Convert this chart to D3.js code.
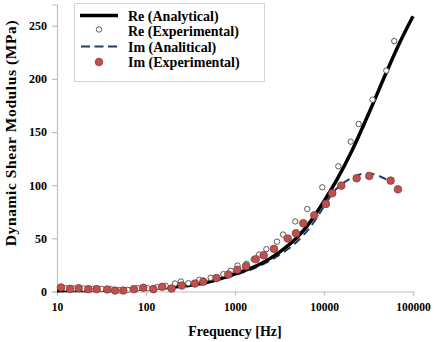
<!DOCTYPE html>
<html>
<head>
<meta charset="utf-8">
<script src="https://cdn.jsdelivr.net/npm/d3@7"></script>
<style>
  html, body { margin: 0; padding: 0; background: #fff; }
  svg { display: block; }
  text { font-family: "Liberation Serif", "Times New Roman", serif; font-weight: bold; fill: #000; }
</style>
</head>
<body>
<svg id="chart" width="435" height="342"></svg>
<script>
// ---- data ----
const xTicks = [10, 100, 1000, 10000, 100000];
const yTicks = [0, 50, 100, 150, 200, 250];

const reAnaFreq = [10, 20, 50, 100, 200, 500, 1000, 2000, 3162, 5012, 7079, 10000, 14125, 19953, 31623, 50119, 70795, 100000];
const reAnaVal  = [0.8, 1.0, 1.6, 2.6, 4.3, 8.8, 16.5, 26.5, 37, 51, 66, 85, 106, 130, 167, 206, 234, 259];

const reExpFreq = [12.5, 15.5, 19.8, 25.2, 31.8, 40.1, 50.1, 62.3, 80.7, 104, 132, 166, 212, 247, 299, 397, 440, 533, 739, 895, 1067, 1350, 1622, 1862, 2250, 2966, 3461, 4760, 6490, 9570, 14490, 19950, 24530, 35100, 50100, 61600];
const reExpVal  = [3.1, 2.8, 2.8, 2.5, 2.5, 2.2, 1.2, 1.6, 3.1, 3.1, 4.0, 5.4, 7.5, 9.4, 7.8, 11.0, 10.3, 12.9, 16.3, 19.5, 24.4, 26.0, 30.4, 34.8, 39.8, 46.9, 53.6, 65.9, 77.6, 98.0, 117.8, 141.0, 157.6, 180.5, 207.8, 235.6];

const imAnaFreq = [10, 31.6, 100, 316, 1000, 2000, 3160, 5000, 7080, 10000, 12600, 15800, 20000, 25100, 28200, 35500, 44700, 60300];
const imAnaVal  = [0.8, 1.2, 2.4, 5.2, 15.5, 25, 34.5, 47, 61, 80, 93, 101, 106.5, 110, 111, 110.5, 107.5, 102];

const imExpFreq = [11.1, 14.0, 17.5, 22.5, 27.9, 36.7, 44.9, 55.6, 73.3, 93.2, 121, 152, 194, 252, 355, 440, 620, 841, 1065, 1330, 1710, 2100, 2740, 3910, 4840, 5850, 7780, 10520, 12380, 15640, 23280, 32270, 56100, 67700];
const imExpVal  = [3.8, 2.5, 3.1, 2.2, 2.2, 1.9, 0.9, 0.9, 2.2, 3.5, 2.2, 4.4, 2.8, 5.6, 7.5, 9.2, 12.7, 16.0, 20.5, 23.8, 30.4, 34.1, 40.1, 49.8, 54.8, 64.2, 71.7, 82.4, 92.4, 99.6, 106.5, 108.7, 104.3, 96.1];

const legendLabels = ["Re (Analytical)", "Re (Experimental)", "Im (Analitical)", "Im (Experimental)"];

// ---- styles ----
const C = {
  axis: "#bfbfbf",
  reLine: "#000000",
  imLine: "#1f3f66",
  openStroke: "#595959",
  redFill: "#c0504d",
  redStroke: "#8a3a38",
  legendBorder: "#d4d4d4"
};

const svg = d3.select("#chart");
const x = d3.scaleLog().domain([10, 100000]).range([57, 413]);
const y = d3.scaleLinear().domain([0, 270]).range([291.5, 4.5]);

const zip = (a, b) => a.map((v, i) => [v, b[i]]);

// axes
const yAxis = d3.axisLeft(y).tickValues(yTicks).tickSize(5).tickPadding(5).tickFormat(d3.format("d"));
const gy = svg.append("g").attr("transform", `translate(${x(10)},0)`).call(yAxis);
gy.select(".domain").attr("stroke", C.axis).attr("stroke-width", 1.2);
gy.selectAll(".tick line").attr("stroke", C.axis).attr("stroke-width", 1.2);
gy.selectAll(".tick text").attr("font-size", 12).attr("font-family", "Liberation Serif").attr("font-weight", "bold").attr("fill", "#000");

const xAxis = d3.axisBottom(x).tickValues(xTicks).tickSize(4).tickPadding(7).tickFormat(d3.format("d"));
const gx = svg.append("g").attr("transform", `translate(0,${y(0)})`).call(xAxis);
gx.select(".domain").attr("stroke", C.axis).attr("stroke-width", 1.2);
gx.selectAll(".tick line").attr("stroke", C.axis).attr("stroke-width", 1.2);
gx.selectAll(".tick text").attr("font-size", 11.5).attr("font-family", "Liberation Serif").attr("font-weight", "bold").attr("fill", "#000");

// titles
svg.append("text").attr("x", 235).attr("y", 336).attr("text-anchor", "middle").attr("font-size", 14).text("Frequency [Hz]");
svg.append("text").attr("transform", "translate(16,133) rotate(-90)").attr("text-anchor", "middle")
  .attr("font-size", 15.5).attr("letter-spacing", 0.6).text("Dynamic Shear Modulus (MPa)");

// lines
const line = d3.line().x(d => x(d[0])).y(d => y(d[1])).curve(d3.curveMonotoneX);

svg.append("path").datum(zip(imAnaFreq, imAnaVal)).attr("d", line)
  .attr("fill", "none").attr("stroke", C.imLine).attr("stroke-width", 2).attr("stroke-dasharray", "8,5");

svg.append("path").datum(zip(reAnaFreq, reAnaVal)).attr("d", line)
  .attr("fill", "none").attr("stroke", C.reLine).attr("stroke-width", 3.5);

svg.append("g").selectAll("circle").data(zip(reExpFreq, reExpVal)).join("circle")
  .attr("cx", d => x(d[0])).attr("cy", d => y(d[1])).attr("r", 2.7)
  .attr("fill", "#fff").attr("stroke", C.openStroke).attr("stroke-width", 1);

svg.append("g").selectAll("circle").data(zip(imExpFreq, imExpVal)).join("circle")
  .attr("cx", d => x(d[0])).attr("cy", d => y(d[1])).attr("r", 3.8)
  .attr("fill", C.redFill).attr("stroke", C.redStroke).attr("stroke-width", 0.8);

// legend
const lg = svg.append("g");
lg.append("rect").attr("x", 74.5).attr("y", 3.5).attr("width", 190).attr("height", 78)
  .attr("fill", "#fff").attr("stroke", C.legendBorder).attr("stroke-width", 1);
const rowY = [15.5, 30.5, 46.5, 62];
lg.append("line").attr("x1", 80).attr("x2", 118).attr("y1", rowY[0]).attr("y2", rowY[0])
  .attr("stroke", C.reLine).attr("stroke-width", 3.5);
lg.append("circle").attr("cx", 99).attr("cy", rowY[1] - 1).attr("r", 2.7)
  .attr("fill", "#fff").attr("stroke", C.openStroke).attr("stroke-width", 1);
lg.append("line").attr("x1", 81).attr("x2", 118).attr("y1", rowY[2]).attr("y2", rowY[2])
  .attr("stroke", C.imLine).attr("stroke-width", 2).attr("stroke-dasharray", "9,4.5");
lg.append("circle").attr("cx", 99).attr("cy", rowY[3]).attr("r", 3.8)
  .attr("fill", C.redFill).attr("stroke", C.redStroke).attr("stroke-width", 0.8);
lg.selectAll("text.lab").data(legendLabels).join("text").attr("class", "lab")
  .attr("x", 128).attr("y", (d, i) => rowY[i] + 5).attr("font-size", 14).text(d => d);
</script>
</body>
</html>
